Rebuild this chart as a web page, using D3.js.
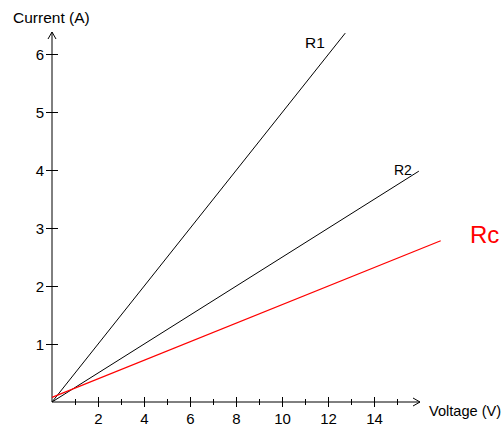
<!DOCTYPE html>
<html>
<head>
<meta charset="utf-8">
<script src="https://cdn.jsdelivr.net/npm/d3@7"></script>
<style>
  body { margin: 0; background: #fff; }
  svg { font-family: "Liberation Sans", Arial, sans-serif; }
</style>
</head>
<body>
<div id="chart"></div>
<script>
const width = 504, height = 427;

// tick values
const xTicks = [1, 2, 3, 4, 5, 6, 7, 8, 9, 10, 11, 12, 13, 14, 15];
const xLabels = [2, 4, 6, 8, 10, 12, 14];
const yTicks = [1, 2, 3, 4, 5, 6];

// line endpoints, [voltage, current]
const r1 = [[0, 0], [12.75, 6.36]];
const r2 = [[0, 0], [15.95, 3.98]];
const rc = [[0, 0.08], [16.9, 2.78]];

const x = d3.scaleLinear().domain([0, 16]).range([52, 420]);
const y = d3.scaleLinear().domain([0, 6]).range([402, 54]);

const svg = d3.select("#chart")
    .append("svg")
    .attr("width", width)
    .attr("height", height);

// x axis
let xAxis = svg.append("g")
    .attr("transform", "translate(0," + y(0) + ")")
    .call(d3.axisBottom(x).tickValues(xTicks).tickFormat(d => xLabels.includes(d) ? d : "").tickSizeOuter(0));
xAxis.select(".domain").remove();
xAxis.attr("font-size", 15).attr("font-family", "Liberation Sans, Arial, sans-serif");
xAxis.selectAll(".tick line")
    .attr("y1", d => xLabels.includes(d) ? -5 : -3)
    .attr("y2", d => xLabels.includes(d) ? 5 : 3)
    .attr("stroke", "#000");
xAxis.selectAll(".tick text")
    .attr("y", 11)
    .attr("dy", "0.71em")
    .attr("fill", "#000");

// y axis
let yAxis = svg.append("g")
    .attr("transform", "translate(" + x(0) + ",0)")
    .call(d3.axisLeft(y).tickValues(yTicks).tickFormat(d3.format("d")).tickSizeOuter(0));
yAxis.select(".domain").remove();
yAxis.attr("font-size", 15).attr("font-family", "Liberation Sans, Arial, sans-serif");
yAxis.selectAll(".tick line")
    .attr("x1", -6)
    .attr("x2", 6)
    .attr("stroke", "#000");
yAxis.selectAll(".tick text")
    .attr("x", -8)
    .attr("dy", "0.36em")
    .attr("fill", "#000");

// axis lines with arrows
svg.append("line")
    .attr("x1", x(0)).attr("y1", y(0))
    .attr("x2", 420).attr("y2", y(0))
    .attr("stroke", "#000");
svg.append("path")
    .attr("d", "M413,398L420,402L413,406")
    .attr("fill", "none")
    .attr("stroke", "#000");

svg.append("line")
    .attr("x1", x(0)).attr("y1", y(0))
    .attr("x2", x(0)).attr("y2", 32)
    .attr("stroke", "#000");
svg.append("path")
    .attr("d", "M48,39L52,32L56,39")
    .attr("fill", "none")
    .attr("stroke", "#000");

// lines
const line = d3.line().x(d => x(d[0])).y(d => y(d[1]));

svg.append("path").datum(r1).attr("d", line)
    .attr("fill", "none").attr("stroke", "#000").attr("stroke-width", 1);
svg.append("path").datum(r2).attr("d", line)
    .attr("fill", "none").attr("stroke", "#000").attr("stroke-width", 1);
svg.append("path").datum(rc).attr("d", line)
    .attr("fill", "none").attr("stroke", "#f00").attr("stroke-width", 1.2);

// labels
svg.append("text").attr("x", 305).attr("y", 48)
    .attr("font-size", 15.5).text("R1");
svg.append("text").attr("x", 394).attr("y", 175)
    .attr("font-size", 14).text("R2");
svg.append("text").attr("x", 470).attr("y", 243)
    .attr("font-size", 24).attr("fill", "#f00").text("Rc");

svg.append("text").attr("x", 13).attr("y", 23)
    .attr("font-size", 15.5).text("Current (A)");
svg.append("text").attr("x", 429).attr("y", 416)
    .attr("font-size", 14.6).text("Voltage (V)");
</script>
</body>
</html>
